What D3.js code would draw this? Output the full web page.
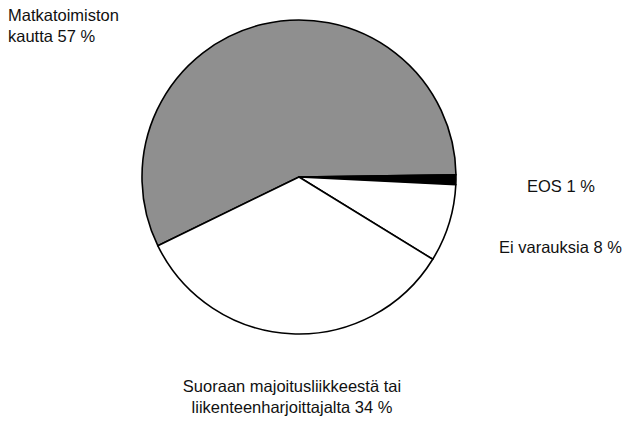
<!DOCTYPE html>
<html>
<head>
  <meta charset="utf-8">
  <script src="https://d3js.org/d3.v7.min.js"></script>
</head>
<style>
  body { margin: 0; background: #fff; }
  text { font-family: "Liberation Sans", Arial, sans-serif; font-size: 16.5px; fill: #111; }
</style>
<body>
  <svg width="638" height="427"></svg>

  <script>
    // Data, in drawing order clockwise
    const categories = ['Matkatoimiston kautta', 'EOS', 'Ei varauksia', 'Suoraan majoitusliikkeestä tai liikenteenharjoittajalta'];
    const shares = [57, 1, 8, 34];
    const labelLines = [
      ['Matkatoimiston', 'kautta 57 %'],
      ['EOS 1 %'],
      ['Ei varauksia 8 %'],
      ['Suoraan majoitusliikkeestä tai', 'liikenteenharjoittajalta 34 %']
    ];

    const data = categories.map((c, i) => ({name: c, value: shares[i], lines: labelLines[i]}));

    const svg = d3.select('svg');
    const cx = 299, cy = 177, radius = 157;

    const fills = ['#8f8f8f', '#000', '#fff', '#fff'];

    const start = -116 * Math.PI / 180;
    const pie = d3.pie()
      .sort(null)
      .value(d => d.value)
      .startAngle(start)
      .endAngle(start + 2 * Math.PI);

    const arc = d3.arc().innerRadius(0).outerRadius(radius);

    const g = svg.append('g').attr('transform', `translate(${cx},${cy})`);

    g.selectAll('path')
      .data(pie(data))
      .enter()
      .append('path')
      .attr('d', arc)
      .attr('fill', (d, i) => fills[i])
      .attr('stroke', '#000')
      .attr('stroke-width', 1.6)
      .attr('stroke-linejoin', 'round');

    // labels
    const labelPos = [
      {x: 8, y: 21, anchor: 'start'},
      {x: 527, y: 192, anchor: 'start'},
      {x: 499, y: 253, anchor: 'start'},
      {x: 292, y: 392, anchor: 'middle'}
    ];

    data.forEach((d, i) => {
      const t = svg.append('text')
        .attr('x', labelPos[i].x)
        .attr('y', labelPos[i].y)
        .attr('text-anchor', labelPos[i].anchor);
      d.lines.forEach((line, j) => {
        t.append('tspan')
          .attr('x', labelPos[i].x)
          .attr('dy', j === 0 ? 0 : 21)
          .text(line);
      });
    });
  </script>
</body>
</html>
